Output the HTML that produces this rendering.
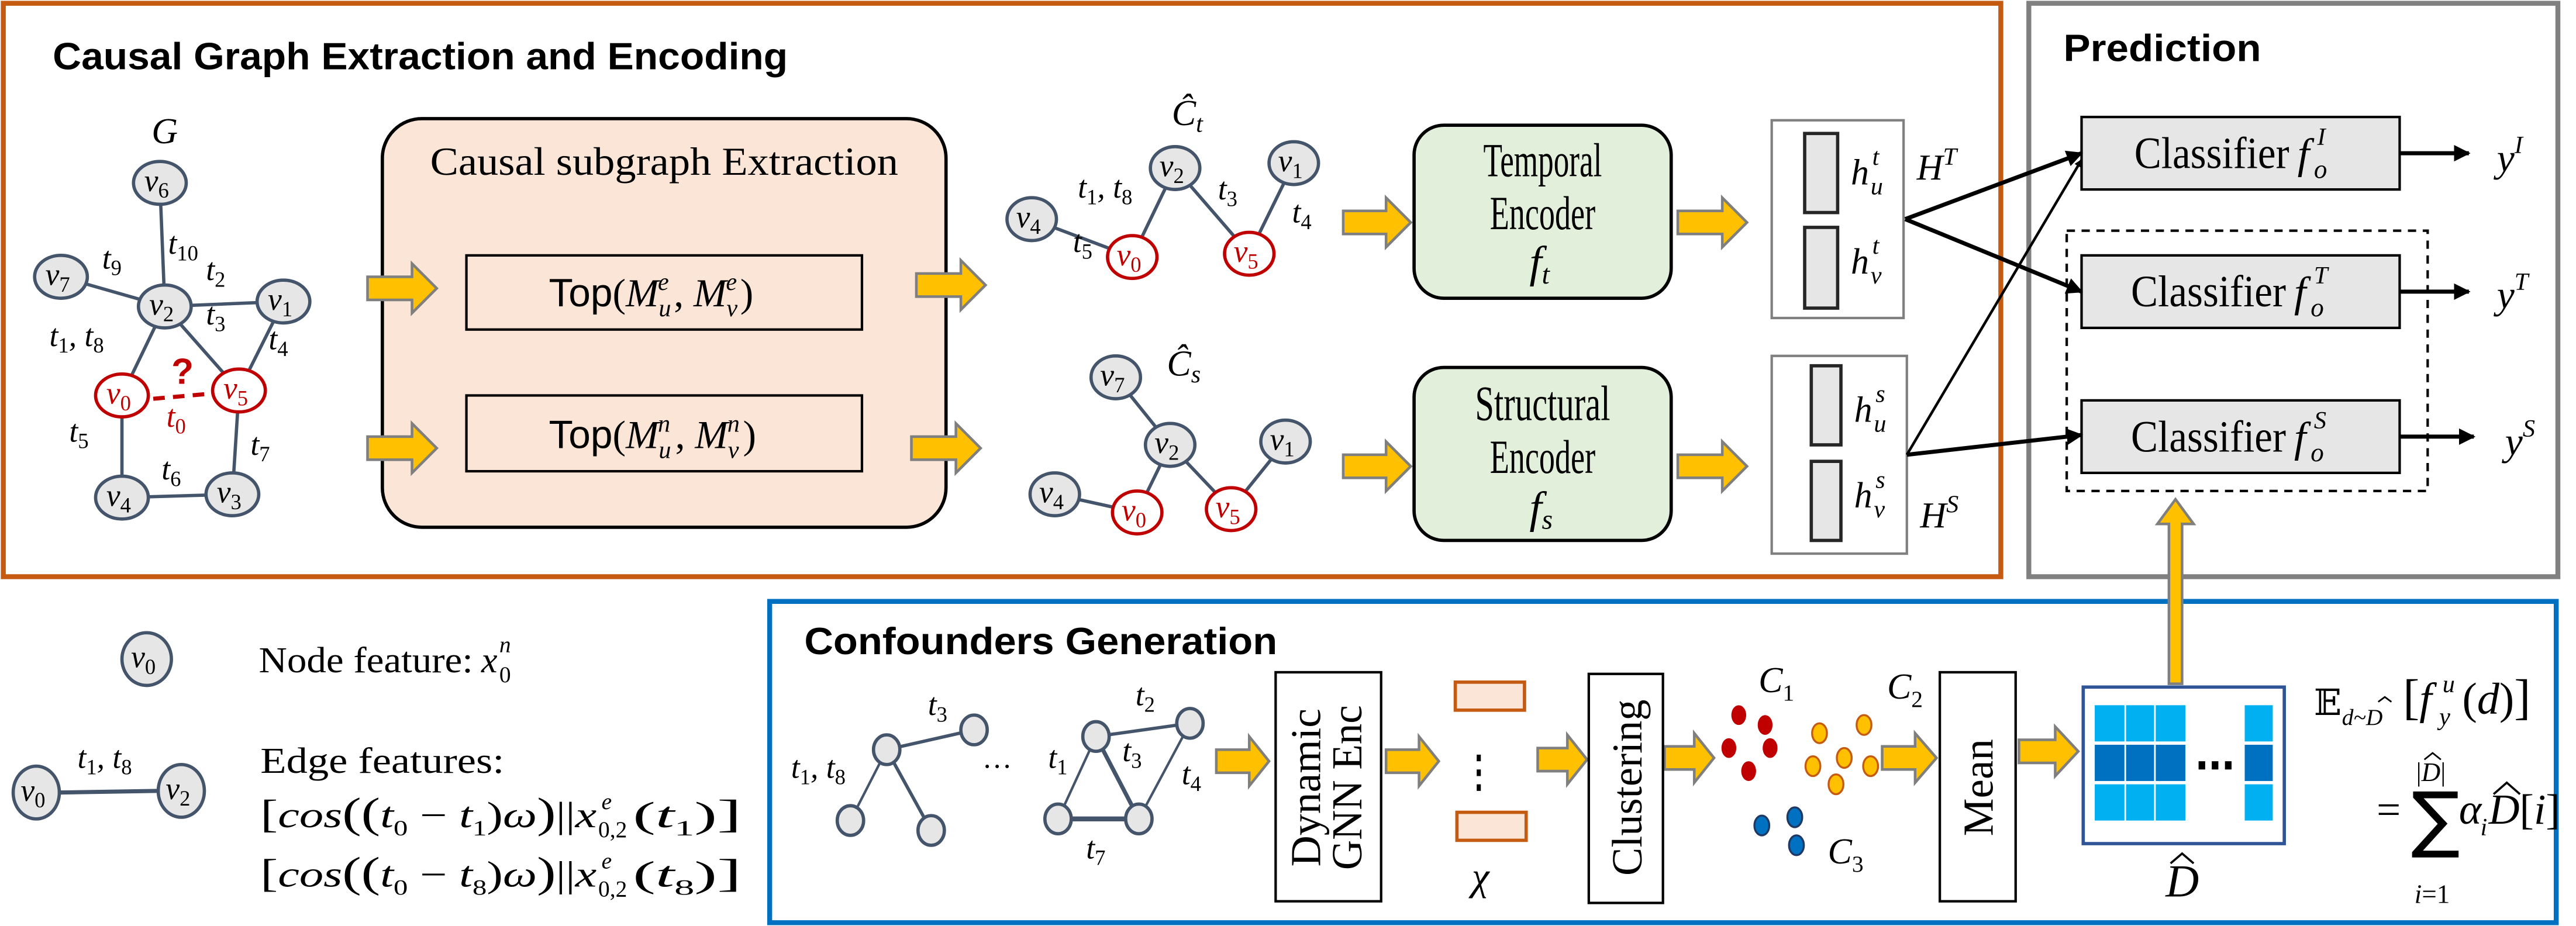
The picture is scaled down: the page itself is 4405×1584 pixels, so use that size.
<!DOCTYPE html>
<html><head><meta charset="utf-8">
<style>
html,body{margin:0;padding:0;background:#fff;}
svg{display:block;}
.m{font-family:"Liberation Serif",serif;font-style:italic;font-size:19px;fill:#000;}
.u{font-style:normal;}
.s{font-size:13px;font-style:normal;}
.si{font-size:13px;}
.t{font-family:"Liberation Sans",sans-serif;font-weight:bold;font-size:23px;fill:#000;}
.r{font-family:"Liberation Serif",serif;font-size:24px;fill:#000;}
.nd{fill:#e7e6e6;stroke:#44546a;stroke-width:2;}
.nr{fill:#fff;stroke:#c00000;stroke-width:2;}
.e{stroke:#44546a;stroke-width:2;fill:none;}
.ar{fill:#ffc000;stroke:#7f7f7f;stroke-width:1.6;}
.red{fill:#c00000;}
</style></head><body>
<svg width="4405" height="1584" viewBox="0 0 1563 562" preserveAspectRatio="none" xmlns="http://www.w3.org/2000/svg">
<defs>
<marker id="ah" viewBox="0 0 10 10" refX="9" refY="5" markerWidth="4" markerHeight="4" orient="auto"><path d="M0,0 L10,5 L0,10 z" fill="#000"/></marker>
<marker id="ah2" viewBox="0 0 10 10" refX="9" refY="5" markerWidth="3" markerHeight="3" orient="auto"><path d="M0,0 L10,5 L0,10 z" fill="#000"/></marker>
</defs>
<rect width="1563" height="562" fill="#fff"/>
<rect x="2" y="2" width="1212" height="348" fill="none" stroke="#c55a11" stroke-width="3"/>
<rect x="1231" y="2" width="321" height="348" fill="#fff" stroke="#808080" stroke-width="3"/>
<rect x="467" y="365" width="1084" height="195" fill="none" stroke="#0070c0" stroke-width="3"/>

<text class="t" x="32" y="42" textLength="446" lengthAdjust="spacingAndGlyphs">Causal Graph Extraction and Encoding</text>
<text class="t" x="1252" y="37" textLength="120" lengthAdjust="spacingAndGlyphs">Prediction</text>
<text class="t" x="488" y="397" textLength="287" lengthAdjust="spacingAndGlyphs">Confounders Generation</text>

<rect x="232" y="72" width="342" height="248" rx="24" ry="24" fill="#fbe5d6" stroke="#000" stroke-width="2"/>
<text class="r" x="403" y="106" text-anchor="middle" textLength="284" lengthAdjust="spacingAndGlyphs">Causal subgraph Extraction</text>
<rect x="283" y="155" width="240" height="45" fill="#fbe5d6" stroke="#000" stroke-width="1.5"/>
<rect x="283" y="240" width="240" height="46" fill="#fbe5d6" stroke="#000" stroke-width="1.5"/>
<text x="333" y="186" style="font-family:'Liberation Sans',sans-serif;font-size:24px">Top<tspan class="m" style="font-size:24px;font-style:normal">(</tspan><tspan class="m" style="font-size:24px">M</tspan><tspan class="m" style="font-size:15px" dy="6">u</tspan><tspan class="m" style="font-size:15px" dx="-8" dy="-16">e</tspan><tspan class="m" style="font-size:24px;font-style:normal" dx="3" dy="10">, </tspan><tspan class="m" style="font-size:24px">M</tspan><tspan class="m" style="font-size:15px" dy="6">v</tspan><tspan class="m" style="font-size:15px" dx="-7" dy="-16">e</tspan><tspan class="m" style="font-size:24px;font-style:normal" dx="2" dy="10">)</tspan></text>
<text x="333" y="272" style="font-family:'Liberation Sans',sans-serif;font-size:24px">Top<tspan class="m" style="font-size:24px;font-style:normal">(</tspan><tspan class="m" style="font-size:24px">M</tspan><tspan class="m" style="font-size:15px" dy="6">u</tspan><tspan class="m" style="font-size:15px" dx="-8" dy="-16">n</tspan><tspan class="m" style="font-size:24px;font-style:normal" dx="3" dy="10">, </tspan><tspan class="m" style="font-size:24px">M</tspan><tspan class="m" style="font-size:15px" dy="6">v</tspan><tspan class="m" style="font-size:15px" dx="-7" dy="-16">n</tspan><tspan class="m" style="font-size:24px;font-style:normal" dx="2" dy="10">)</tspan></text>

<!-- Graph G -->
<text class="m" x="92" y="87" style="font-size:22px">G</text>
<g>
<line class="e" x1="97" y1="111" x2="100" y2="186"/>
<line class="e" x1="37" y1="168" x2="100" y2="186"/>
<line class="e" x1="100" y1="186" x2="172" y2="183"/>
<line class="e" x1="100" y1="186" x2="74" y2="240"/>
<line class="e" x1="100" y1="186" x2="145" y2="237"/>
<line class="e" x1="172" y1="183" x2="145" y2="237"/>
<line class="e" x1="74" y1="240" x2="74" y2="302"/>
<line class="e" x1="145" y1="237" x2="141" y2="300"/>
<line class="e" x1="74" y1="302" x2="141" y2="300"/>
<line x1="93" y1="242" x2="127" y2="239" stroke="#c00000" stroke-width="2.5" stroke-dasharray="7,5"/>
</g>
<g>
<ellipse class="nd" cx="97" cy="111" rx="16" ry="13"/><text class="m" x="95" y="116" text-anchor="middle">v<tspan class="s" dy="4">6</tspan></text>
<ellipse class="nd" cx="37" cy="168" rx="16" ry="13"/><text class="m" x="35" y="173" text-anchor="middle">v<tspan class="s" dy="4">7</tspan></text>
<ellipse class="nd" cx="100" cy="186" rx="16" ry="13"/><text class="m" x="98" y="191" text-anchor="middle">v<tspan class="s" dy="4">2</tspan></text>
<ellipse class="nd" cx="172" cy="183" rx="16" ry="13"/><text class="m" x="170" y="188" text-anchor="middle">v<tspan class="s" dy="4">1</tspan></text>
<ellipse class="nr" cx="74" cy="240" rx="16" ry="13"/><text class="m red" x="72" y="245" text-anchor="middle">v<tspan class="s" dy="4">0</tspan></text>
<ellipse class="nr" cx="145" cy="237" rx="16" ry="13"/><text class="m red" x="143" y="242" text-anchor="middle">v<tspan class="s" dy="4">5</tspan></text>
<ellipse class="nd" cx="74" cy="302" rx="16" ry="13"/><text class="m" x="72" y="307" text-anchor="middle">v<tspan class="s" dy="4">4</tspan></text>
<ellipse class="nd" cx="141" cy="300" rx="16" ry="13"/><text class="m" x="139" y="305" text-anchor="middle">v<tspan class="s" dy="4">3</tspan></text>
</g>
<text class="m" x="102" y="154">t<tspan class="s" dy="4">10</tspan></text>
<text class="m" x="62" y="163">t<tspan class="s" dy="4">9</tspan></text>
<text class="m" x="125" y="170">t<tspan class="s" dy="4">2</tspan></text>
<text class="m" x="125" y="197">t<tspan class="s" dy="4">3</tspan></text>
<text class="m" x="163" y="212">t<tspan class="s" dy="4">4</tspan></text>
<text class="m" x="30" y="210">t<tspan class="s" dy="4">1</tspan><tspan dy="-4">, t</tspan><tspan class="s" dy="4">8</tspan></text>
<text x="104" y="233" style="font-family:'Liberation Sans',sans-serif;font-weight:bold;font-size:22px;fill:#c00000">?</text>
<text class="m red" x="101" y="259">t<tspan class="s" dy="4">0</tspan></text>
<text class="m" x="42" y="268">t<tspan class="s" dy="4">5</tspan></text>
<text class="m" x="152" y="276">t<tspan class="s" dy="4">7</tspan></text>
<text class="m" x="98" y="291">t<tspan class="s" dy="4">6</tspan></text>

<!-- block arrows -->
<g>
<polygon class="ar" points="223,168 250,168 250,160 265,175 250,190 250,182 223,182"/>
<polygon class="ar" points="223,265 250,265 250,257 265,272 250,287 250,279 223,279"/>
<polygon class="ar" points="556,166 583,166 583,158 598,173 583,188 583,180 556,180"/>
<polygon class="ar" points="553,265 580,265 580,257 595,272 580,287 580,279 553,279"/>
<polygon class="ar" points="815,128 841,128 841,120 856,135 841,150 841,142 815,142"/>
<polygon class="ar" points="815,276 841,276 841,268 856,283 841,298 841,290 815,290"/>
<polygon class="ar" points="1018,128 1045,128 1045,120 1060,135 1045,150 1045,142 1018,142"/>
<polygon class="ar" points="1018,276 1045,276 1045,268 1060,283 1045,298 1045,290 1018,290"/>
<polygon class="ar" points="738,455 758,455 758,447 770,462 758,477 758,469 738,469"/>
<polygon class="ar" points="841,455 861,455 861,447 873,462 861,477 861,469 841,469"/>
<polygon class="ar" points="933,454 951,454 951,446 963,461 951,476 951,468 933,468"/>
<polygon class="ar" points="1010,453 1028,453 1028,445 1040,460 1028,475 1028,467 1010,467"/>
<polygon class="ar" points="1142,453 1162,453 1162,445 1175,460 1162,475 1162,467 1142,467"/>
<polygon class="ar" points="1225,449 1247,449 1247,441 1261,456 1247,471 1247,463 1225,463"/>
<polygon class="ar" points="1316,415 1316,318 1309,318 1320,303 1331,318 1324,318 1324,415"/>
</g>

<!-- C_t -->
<text class="m" x="711" y="76" style="font-size:22px">Ĉ<tspan class="si" dy="4" style="font-size:15px">t</tspan></text>
<line class="e" x1="626" y1="133" x2="687" y2="156"/>
<line class="e" x1="687" y1="156" x2="713" y2="102"/>
<line class="e" x1="713" y1="102" x2="758" y2="154"/>
<line class="e" x1="758" y1="154" x2="785" y2="99"/>
<ellipse class="nd" cx="626" cy="133" rx="15" ry="13"/><text class="m" x="624" y="138" text-anchor="middle">v<tspan class="s" dy="4">4</tspan></text>
<ellipse class="nd" cx="713" cy="102" rx="15" ry="13"/><text class="m" x="711" y="107" text-anchor="middle">v<tspan class="s" dy="4">2</tspan></text>
<ellipse class="nd" cx="785" cy="99" rx="15" ry="13"/><text class="m" x="783" y="104" text-anchor="middle">v<tspan class="s" dy="4">1</tspan></text>
<ellipse class="nr" cx="687" cy="156" rx="15" ry="13"/><text class="m red" x="685" y="161" text-anchor="middle">v<tspan class="s" dy="4">0</tspan></text>
<ellipse class="nr" cx="758" cy="154" rx="15" ry="13"/><text class="m red" x="756" y="159" text-anchor="middle">v<tspan class="s" dy="4">5</tspan></text>
<text class="m" x="654" y="120">t<tspan class="s" dy="4">1</tspan><tspan dy="-4">, t</tspan><tspan class="s" dy="4">8</tspan></text>
<text class="m" x="739" y="121">t<tspan class="s" dy="4">3</tspan></text>
<text class="m" x="784" y="135">t<tspan class="s" dy="4">4</tspan></text>
<text class="m" x="651" y="153">t<tspan class="s" dy="4">5</tspan></text>

<!-- C_s -->
<text class="m" x="708" y="228" style="font-size:22px">Ĉ<tspan class="si" dy="4" style="font-size:15px">s</tspan></text>
<line class="e" x1="677" y1="229" x2="710" y2="270"/>
<line class="e" x1="710" y1="270" x2="690" y2="311"/>
<line class="e" x1="710" y1="270" x2="747" y2="309"/>
<line class="e" x1="747" y1="309" x2="780" y2="268"/>
<line class="e" x1="640" y1="300" x2="690" y2="311"/>
<ellipse class="nd" cx="677" cy="229" rx="15" ry="13"/><text class="m" x="675" y="234" text-anchor="middle">v<tspan class="s" dy="4">7</tspan></text>
<ellipse class="nd" cx="710" cy="270" rx="15" ry="13"/><text class="m" x="708" y="275" text-anchor="middle">v<tspan class="s" dy="4">2</tspan></text>
<ellipse class="nd" cx="780" cy="268" rx="15" ry="13"/><text class="m" x="778" y="273" text-anchor="middle">v<tspan class="s" dy="4">1</tspan></text>
<ellipse class="nd" cx="640" cy="300" rx="15" ry="13"/><text class="m" x="638" y="305" text-anchor="middle">v<tspan class="s" dy="4">4</tspan></text>
<ellipse class="nr" cx="690" cy="311" rx="15" ry="13"/><text class="m red" x="688" y="316" text-anchor="middle">v<tspan class="s" dy="4">0</tspan></text>
<ellipse class="nr" cx="747" cy="309" rx="15" ry="13"/><text class="m red" x="745" y="314" text-anchor="middle">v<tspan class="s" dy="4">5</tspan></text>

<!-- Encoders -->
<rect x="858" y="76" width="156" height="105" rx="18" ry="18" fill="#e2efda" stroke="#000" stroke-width="2"/>
<text class="r" x="936" y="107" text-anchor="middle" textLength="72" lengthAdjust="spacingAndGlyphs" style="font-size:29px">Temporal</text>
<text class="r" x="936" y="139" text-anchor="middle" textLength="64" lengthAdjust="spacingAndGlyphs" style="font-size:29px">Encoder</text>
<text class="m" x="928" y="168" style="font-size:27px">f<tspan class="si" dy="4" style="font-size:17px">t</tspan></text>
<rect x="858" y="223" width="156" height="105" rx="18" ry="18" fill="#e2efda" stroke="#000" stroke-width="2"/>
<text class="r" x="936" y="255" text-anchor="middle" textLength="82" lengthAdjust="spacingAndGlyphs" style="font-size:30px">Structural</text>
<text class="r" x="936" y="287" text-anchor="middle" textLength="64" lengthAdjust="spacingAndGlyphs" style="font-size:29px">Encoder</text>
<text class="m" x="928" y="317" style="font-size:27px">f<tspan class="si" dy="4" style="font-size:17px">s</tspan></text>

<!-- h boxes -->
<rect x="1075" y="73" width="80" height="120" fill="#fff" stroke="#808080" stroke-width="1.5"/>
<rect x="1095" y="81" width="20" height="48" fill="#e7e6e6" stroke="#262626" stroke-width="2"/>
<rect x="1095" y="138" width="20" height="49" fill="#e7e6e6" stroke="#262626" stroke-width="2"/>
<text class="m" x="1123" y="112" style="font-size:22px">h</text><text class="m" x="1135" y="118" style="font-size:15px">u</text><text class="m" x="1136" y="100" style="font-size:15px">t</text>
<text class="m" x="1123" y="166" style="font-size:22px">h</text><text class="m" x="1135" y="172" style="font-size:15px">v</text><text class="m" x="1136" y="154" style="font-size:15px">t</text>
<text class="m" x="1163" y="109" style="font-size:22px">H<tspan style="font-size:15px" dy="-9">T</tspan></text>
<rect x="1075" y="216" width="82" height="120" fill="#fff" stroke="#808080" stroke-width="1.5"/>
<rect x="1099" y="222" width="18" height="48" fill="#e7e6e6" stroke="#262626" stroke-width="2"/>
<rect x="1099" y="280" width="18" height="48" fill="#e7e6e6" stroke="#262626" stroke-width="2"/>
<text class="m" x="1125" y="256" style="font-size:22px">h</text><text class="m" x="1137" y="262" style="font-size:15px">u</text><text class="m" x="1138" y="244" style="font-size:15px">s</text>
<text class="m" x="1125" y="308" style="font-size:22px">h</text><text class="m" x="1137" y="314" style="font-size:15px">v</text><text class="m" x="1138" y="296" style="font-size:15px">s</text>
<text class="m" x="1165" y="320" style="font-size:22px">H<tspan style="font-size:15px" dy="-9">S</tspan></text>

<!-- Prediction -->
<rect x="1254" y="140" width="219" height="158" fill="none" stroke="#000" stroke-width="1.5" stroke-dasharray="5,4"/>
<rect x="1263" y="71" width="193" height="44" fill="#e7e6e6" stroke="#000" stroke-width="1.5"/>
<rect x="1263" y="155" width="193" height="44" fill="#e7e6e6" stroke="#000" stroke-width="1.5"/>
<rect x="1263" y="243" width="193" height="44" fill="#e7e6e6" stroke="#000" stroke-width="1.5"/>
<text class="r" x="1295" y="102" textLength="94" lengthAdjust="spacingAndGlyphs" style="font-size:27px">Classifier</text>
<text class="m" x="1394" y="102" style="font-size:26px">f</text><text class="m" x="1404" y="108" style="font-size:16px">o</text><text class="m" x="1406" y="88" style="font-size:15px">I</text>
<text class="r" x="1293" y="186" textLength="94" lengthAdjust="spacingAndGlyphs" style="font-size:27px">Classifier</text>
<text class="m" x="1392" y="186" style="font-size:26px">f</text><text class="m" x="1402" y="192" style="font-size:16px">o</text><text class="m" x="1404" y="172" style="font-size:15px">T</text>
<text class="r" x="1293" y="274" textLength="94" lengthAdjust="spacingAndGlyphs" style="font-size:27px">Classifier</text>
<text class="m" x="1392" y="274" style="font-size:26px">f</text><text class="m" x="1402" y="280" style="font-size:16px">o</text><text class="m" x="1404" y="260" style="font-size:15px">S</text>
<line x1="1456" y1="93" x2="1498" y2="93" stroke="#000" stroke-width="2.5" marker-end="url(#ah)"/>
<line x1="1456" y1="177" x2="1498" y2="177" stroke="#000" stroke-width="2.5" marker-end="url(#ah)"/>
<line x1="1456" y1="265" x2="1501" y2="265" stroke="#000" stroke-width="2.5" marker-end="url(#ah)"/>
<text class="m" x="1515" y="104" style="font-size:24px">y<tspan style="font-size:15px" dy="-11">I</tspan></text>
<text class="m" x="1515" y="187" style="font-size:24px">y<tspan style="font-size:15px" dy="-11">T</tspan></text>
<text class="m" x="1520" y="276" style="font-size:24px">y<tspan style="font-size:15px" dy="-11">S</tspan></text>

<line x1="1156" y1="133" x2="1263" y2="93" stroke="#000" stroke-width="2.5" marker-end="url(#ah)"/>
<line x1="1156" y1="133" x2="1263" y2="177" stroke="#000" stroke-width="2.5" marker-end="url(#ah)"/>
<line x1="1157" y1="276" x2="1263" y2="97" stroke="#000" stroke-width="1.6" marker-end="url(#ah2)"/>
<line x1="1157" y1="276" x2="1263" y2="264" stroke="#000" stroke-width="2.5" marker-end="url(#ah)"/>

<!-- legend -->
<ellipse class="nd" cx="89" cy="400" rx="15" ry="16"/><text class="m" x="87" y="405" text-anchor="middle">v<tspan class="s" dy="4">0</tspan></text>
<text class="r" x="157" y="408" style="font-size:22px" textLength="130" lengthAdjust="spacingAndGlyphs">Node feature:</text>
<text class="m" x="292" y="408" style="font-size:22px">x</text><text class="m u" x="303" y="414" style="font-size:14px">0</text><text class="m" x="303" y="396" style="font-size:14px">n</text>
<line x1="36" y1="481" x2="96" y2="480" stroke="#44546a" stroke-width="2.5"/>
<ellipse class="nd" cx="22" cy="481" rx="14" ry="16"/><text class="m" x="20" y="486" text-anchor="middle">v<tspan class="s" dy="4">0</tspan></text>
<ellipse class="nd" cx="110" cy="480" rx="14" ry="16"/><text class="m" x="108" y="485" text-anchor="middle">v<tspan class="s" dy="4">2</tspan></text>
<text class="m" x="47" y="466">t<tspan class="s" dy="4">1</tspan><tspan dy="-4">, t</tspan><tspan class="s" dy="4">8</tspan></text>
<text class="r" x="158" y="469" style="font-size:22px" textLength="148" lengthAdjust="spacingAndGlyphs">Edge features:</text>

<text class="m" x="158" y="502" style="font-size:22px" textLength="204" lengthAdjust="spacingAndGlyphs"><tspan class="u" style="font-size:24px">[</tspan>cos<tspan class="u" style="font-size:26px">((</tspan>t<tspan class="s" dy="5">0</tspan><tspan class="u" dy="-5"> − </tspan>t<tspan class="s" dy="5">1</tspan><tspan class="u" dy="-5">)</tspan>ω<tspan class="u" style="font-size:26px">)</tspan><tspan class="u">||</tspan>x</text>
<text class="m" x="363" y="508" style="font-size:14px"><tspan class="u">0,2</tspan></text>
<text class="m" x="365" y="491" style="font-size:14px">e</text>
<text class="m" x="384" y="502" style="font-size:22px" textLength="66" lengthAdjust="spacingAndGlyphs"><tspan class="u">(</tspan>t<tspan class="s" dy="5">1</tspan><tspan class="u" dy="-5">)</tspan><tspan class="u" style="font-size:24px">]</tspan></text>

<text class="m" x="158" y="538" style="font-size:22px" textLength="204" lengthAdjust="spacingAndGlyphs"><tspan class="u" style="font-size:24px">[</tspan>cos<tspan class="u" style="font-size:26px">((</tspan>t<tspan class="s" dy="5">0</tspan><tspan class="u" dy="-5"> − </tspan>t<tspan class="s" dy="5">8</tspan><tspan class="u" dy="-5">)</tspan>ω<tspan class="u" style="font-size:26px">)</tspan><tspan class="u">||</tspan>x</text>
<text class="m" x="363" y="544" style="font-size:14px"><tspan class="u">0,2</tspan></text>
<text class="m" x="365" y="527" style="font-size:14px">e</text>
<text class="m" x="384" y="538" style="font-size:22px" textLength="66" lengthAdjust="spacingAndGlyphs"><tspan class="u">(</tspan>t<tspan class="s" dy="5">8</tspan><tspan class="u" dy="-5">)</tspan><tspan class="u" style="font-size:24px">]</tspan></text>

<!-- confounder graphs -->
<line class="e" x1="538" y1="455" x2="591" y2="443"/>
<line class="e" x1="538" y1="455" x2="516" y2="498" style="stroke-width:1.5"/>
<line class="e" x1="538" y1="455" x2="565" y2="504"/>
<ellipse class="nd" cx="538" cy="455" rx="8" ry="9"/>
<ellipse class="nd" cx="591" cy="443" rx="8" ry="9"/>
<ellipse class="nd" cx="516" cy="498" rx="8" ry="9"/>
<ellipse class="nd" cx="565" cy="504" rx="8" ry="9"/>
<text class="m" x="563" y="434">t<tspan class="s" dy="4">3</tspan></text>
<text class="m" x="480" y="472">t<tspan class="s" dy="4">1</tspan><tspan dy="-4">, t</tspan><tspan class="s" dy="4">8</tspan></text>
<text x="596" y="466" style="font-family:'Liberation Serif',serif;font-size:18px">…</text>
<line class="e" x1="665" y1="447" x2="722" y2="439"/>
<line class="e" x1="665" y1="447" x2="642" y2="497" style="stroke-width:1.5"/>
<line class="e" x1="665" y1="447" x2="691" y2="497" style="stroke-width:2.5"/>
<line class="e" x1="722" y1="439" x2="691" y2="497" style="stroke-width:1.5"/>
<line class="e" x1="642" y1="497" x2="691" y2="497" style="stroke-width:3"/>
<ellipse class="nd" cx="665" cy="447" rx="8" ry="9"/>
<ellipse class="nd" cx="722" cy="439" rx="8" ry="9"/>
<ellipse class="nd" cx="642" cy="497" rx="8" ry="9"/>
<ellipse class="nd" cx="691" cy="497" rx="8" ry="9"/>
<text class="m" x="689" y="428">t<tspan class="s" dy="4">2</tspan></text>
<text class="m" x="636" y="466">t<tspan class="s" dy="4">1</tspan></text>
<text class="m" x="681" y="462">t<tspan class="s" dy="4">3</tspan></text>
<text class="m" x="717" y="476">t<tspan class="s" dy="4">4</tspan></text>
<text class="m" x="659" y="521">t<tspan class="s" dy="4">7</tspan></text>

<!-- Dynamic GNN Enc -->
<rect x="774" y="408" width="64" height="139" fill="#fff" stroke="#000" stroke-width="1.5"/>
<g transform="translate(806,478) rotate(-90)">
<text class="r" x="0" y="-5" text-anchor="middle" textLength="96" lengthAdjust="spacingAndGlyphs" style="font-size:26px">Dynamic</text>
<text class="r" x="0" y="20" text-anchor="middle" textLength="100" lengthAdjust="spacingAndGlyphs" style="font-size:26px">GNN Enc</text>
</g>
<rect x="883" y="414" width="42" height="17" fill="#fbe5d6" stroke="#c55a11" stroke-width="2"/>
<rect x="884" y="493" width="42" height="17" fill="#fbe5d6" stroke="#c55a11" stroke-width="2"/>
<rect x="896" y="458" width="2.5" height="4" fill="#000"/>
<rect x="896" y="467" width="2.5" height="4" fill="#000"/>
<rect x="896" y="476" width="2.5" height="4" fill="#000"/>
<text class="m" x="893" y="540" style="font-size:24px">χ</text>

<rect x="964" y="409" width="45" height="139" fill="#fff" stroke="#000" stroke-width="1.5"/>
<g transform="translate(987,478) rotate(-90)">
<text class="r" x="0" y="9" text-anchor="middle" textLength="107" lengthAdjust="spacingAndGlyphs" style="font-size:26px">Clustering</text>
</g>
<g stroke-width="1.2">
<ellipse cx="1055" cy="434" rx="4.5" ry="6" fill="#c00000"/>
<ellipse cx="1071" cy="440" rx="4.5" ry="6" fill="#c00000"/>
<ellipse cx="1049" cy="454" rx="4.5" ry="6" fill="#c00000"/>
<ellipse cx="1074" cy="454" rx="4.5" ry="6" fill="#c00000"/>
<ellipse cx="1061" cy="468" rx="4.5" ry="6" fill="#c00000"/>
<ellipse cx="1131" cy="440" rx="4.5" ry="6" fill="#ffc000" stroke="#c55a11"/>
<ellipse cx="1104" cy="445" rx="4.5" ry="6" fill="#ffc000" stroke="#c55a11"/>
<ellipse cx="1119" cy="460" rx="4.5" ry="6" fill="#ffc000" stroke="#c55a11"/>
<ellipse cx="1100" cy="465" rx="4.5" ry="6" fill="#ffc000" stroke="#c55a11"/>
<ellipse cx="1135" cy="465" rx="4.5" ry="6" fill="#ffc000" stroke="#c55a11"/>
<ellipse cx="1114" cy="476" rx="4.5" ry="6" fill="#ffc000" stroke="#c55a11"/>
<ellipse cx="1089" cy="496" rx="4.5" ry="6" fill="#0070c0" stroke="#1f3864"/>
<ellipse cx="1069" cy="501" rx="4.5" ry="6" fill="#0070c0" stroke="#1f3864"/>
<ellipse cx="1090" cy="513" rx="4.5" ry="6" fill="#0070c0" stroke="#1f3864"/>
</g>
<text class="m" x="1067" y="420" style="font-size:22px">C<tspan class="s" dy="5" style="font-size:14px">1</tspan></text>
<text class="m" x="1145" y="424" style="font-size:22px">C<tspan class="s" dy="5" style="font-size:14px">2</tspan></text>
<text class="m" x="1109" y="524" style="font-size:22px">C<tspan class="s" dy="5" style="font-size:14px">3</tspan></text>

<rect x="1177" y="408" width="46" height="139" fill="#fff" stroke="#000" stroke-width="1.5"/>
<g transform="translate(1200,478) rotate(-90)">
<text class="r" x="0" y="9" text-anchor="middle" textLength="59" lengthAdjust="spacingAndGlyphs" style="font-size:26px">Mean</text>
</g>

<!-- D hat -->
<rect x="1264" y="417" width="122" height="95" fill="#fff" stroke="#2f5597" stroke-width="2"/>
<g fill="#00b0f0">
<rect x="1271" y="428" width="18" height="22"/><rect x="1290" y="428" width="17" height="22"/><rect x="1308" y="428" width="18" height="22"/><rect x="1362" y="428" width="17" height="22"/>
<rect x="1271" y="476" width="18" height="22"/><rect x="1290" y="476" width="17" height="22"/><rect x="1308" y="476" width="18" height="22"/><rect x="1362" y="476" width="17" height="22"/>
</g>
<g fill="#0070c0">
<rect x="1271" y="452" width="18" height="22"/><rect x="1290" y="452" width="17" height="22"/><rect x="1308" y="452" width="18" height="22"/><rect x="1362" y="452" width="17" height="22"/>
</g>
<rect x="1334" y="462" width="4" height="5" fill="#000"/><rect x="1342" y="462" width="4" height="5" fill="#000"/><rect x="1350" y="462" width="4" height="5" fill="#000"/>
<text class="m" x="1314" y="544" style="font-size:28px">D</text>
<path d="M1317,524 L1324,518 L1331,524" fill="none" stroke="#000" stroke-width="1.3"/>

<!-- formula -->
<text x="1404" y="434" style="font-family:'DejaVu Serif',serif;font-size:22px">𝔼</text>
<text class="m" x="1421" y="440" style="font-size:14px">d~D</text>
<path d="M1443,426 L1447,423 L1451,426" fill="none" stroke="#000" stroke-width="1"/>
<text class="m" x="1458" y="433" style="font-size:27px"><tspan class="u" style="font-size:30px">[</tspan>f</text>
<text class="m" x="1480" y="440" style="font-size:15px">y</text>
<text class="m" x="1482" y="420" style="font-size:15px">u</text>
<text class="m" x="1494" y="433" style="font-size:27px"><tspan class="u">(</tspan>d<tspan class="u">)</tspan><tspan class="u" style="font-size:30px">]</tspan></text>
<text class="m" x="1466" y="474" style="font-size:16px"><tspan class="u">|</tspan>D<tspan class="u">|</tspan></text>
<path d="M1471,461 L1476,457 L1481,461" fill="none" stroke="#000" stroke-width="1"/>
<text x="1442" y="500" style="font-family:'Liberation Serif',serif;font-size:26px">=</text>
<text x="1463" y="512" style="font-family:'DejaVu Sans',sans-serif;font-size:44px">∑</text>
<text class="m" x="1465" y="548" style="font-size:16px">i<tspan class="u">=1</tspan></text>
<text class="m" x="1492" y="500" style="font-size:26px">α</text>
<text class="m" x="1505" y="507" style="font-size:15px">i</text>
<text class="m" x="1510" y="500" style="font-size:26px">D<tspan class="u">[</tspan>i<tspan class="u">]</tspan></text>
<path d="M1513,482 L1521,475 L1529,482" fill="none" stroke="#000" stroke-width="1.3"/>
</svg>
</body></html>
